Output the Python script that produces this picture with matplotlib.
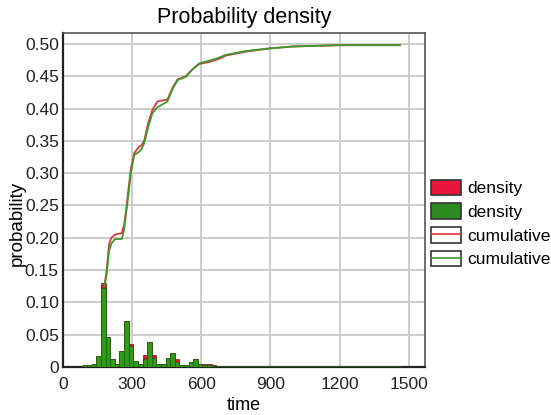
import numpy as np
import matplotlib.pyplot as plt
from matplotlib.patches import Patch
from matplotlib.lines import Line2D
from matplotlib.legend_handler import HandlerTuple

plt.rcParams['font.family'] = ['Liberation Sans', 'DejaVu Sans']

# histogram bins (left edges, width 20)
bin_left = np.arange(85, 1465, 20)

green_density = [0.003, 0.003, 0.004, 0.017, 0.122, 0.047, 0.012, 0.004, 0.024, 0.071,
                 0.032, 0.010, 0.004, 0.013, 0.038, 0.014, 0.004, 0.004, 0.014, 0.021,
                 0.008, 0.003, 0.003, 0.008, 0.012, 0.005, 0.003, 0.003, 0.002, 0.002,
                 0.002, 0.001, 0.002, 0.001, 0.001, 0.002, 0.002, 0.001, 0.001, 0.001,
                 0.002, 0.001, 0.001, 0.001, 0.001, 0.001, 0.002, 0.001, 0.001, 0.001,
                 0.001, 0.001, 0.001, 0.001, 0.001, 0.001, 0.001, 0.001, 0.001, 0.001,
                 0.001, 0.001, 0.001, 0.001, 0.001, 0.001, 0.001, 0.001, 0.001]
red_density = [0.003, 0.003, 0.004, 0.017, 0.130, 0.047, 0.012, 0.004, 0.024, 0.071,
               0.036, 0.010, 0.004, 0.019, 0.038, 0.019, 0.004, 0.004, 0.014, 0.021,
               0.012, 0.003, 0.003, 0.008, 0.012, 0.005, 0.004, 0.004, 0.003, 0.002,
               0.002, 0.001, 0.002, 0.001, 0.001, 0.002, 0.002, 0.001, 0.001, 0.001,
               0.002, 0.001, 0.001, 0.001, 0.001, 0.001, 0.002, 0.001, 0.001, 0.001,
               0.001, 0.001, 0.001, 0.001, 0.001, 0.001, 0.001, 0.001, 0.001, 0.001,
               0.001, 0.001, 0.001, 0.001, 0.001, 0.001, 0.001, 0.001, 0.001]

# cumulative curves
cum_t = [180, 188, 200, 210, 226, 255, 265, 272, 285, 294, 309, 330, 340, 352, 370,
         388, 410, 453, 475, 497, 533, 560, 591, 635, 678, 707, 794, 896, 997, 1100,
         1200, 1461]
cum_green = [0.125, 0.140, 0.180, 0.191, 0.198, 0.198, 0.212, 0.233, 0.270, 0.300,
             0.328, 0.333, 0.337, 0.346, 0.372, 0.393, 0.402, 0.411, 0.430, 0.444,
             0.449, 0.460, 0.470, 0.474, 0.479, 0.483, 0.489, 0.493, 0.496, 0.497,
             0.498, 0.498]
cum_red = [0.128, 0.145, 0.190, 0.200, 0.205, 0.207, 0.220, 0.238, 0.278, 0.306,
           0.331, 0.341, 0.343, 0.350, 0.378, 0.398, 0.411, 0.414, 0.432, 0.445,
           0.450, 0.460, 0.469, 0.472, 0.477, 0.482, 0.488, 0.493, 0.496, 0.497,
           0.498, 0.498]

fig = plt.figure(figsize=(5.51, 4.15), dpi=100)
ax = fig.add_axes([0.1143, 0.1157, 0.657, 0.805])

ax.grid(True, color='#cccccc', linewidth=1.4)
ax.set_axisbelow(True)

ax.bar(bin_left, red_density, width=20, align='edge', color='#e0102e',
       edgecolor='#7a1010', linewidth=0.5, zorder=2)
ax.bar(bin_left, green_density, width=20, align='edge', color='#2f9a14',
       edgecolor='#1d5a0c', linewidth=0.5, zorder=3)
ax.plot(cum_t, cum_red, color='#d83a3a', linewidth=1.3, zorder=4)
ax.plot(cum_t, cum_green, color='#3c9a2c', linewidth=1.3, zorder=5)

ax.set_xlim(0, 1570)
ax.set_ylim(0, 0.517)
ax.set_xticks([0, 300, 600, 900, 1200, 1500])
yt = np.arange(0, 0.501, 0.05)
ax.set_yticks(yt)
ax.set_yticklabels(['0'] + ['%.2f' % v for v in yt[1:]])
ax.tick_params(length=0, labelsize=12.5, colors='#222222', pad=3)
ax.tick_params(axis='x', pad=7)

for side in ['left', 'bottom']:
    ax.spines[side].set_color('#222222')
    ax.spines[side].set_linewidth(1.6)
for side in ['top', 'right']:
    ax.spines[side].set_color('#555555')
    ax.spines[side].set_linewidth(1.2)

ax.set_title('Probability density', fontsize=15.5, pad=7)
ax.set_xlabel('time', fontsize=13, labelpad=4)
ax.set_ylabel('probability', fontsize=13.5)
ax.yaxis.set_label_coords(-0.102, 0.43)

h_red = Patch(facecolor='#e8173a', edgecolor='#333333', linewidth=1.2)
h_green = Patch(facecolor='#2e8b22', edgecolor='#333333', linewidth=1.2)
h_cred = (Patch(facecolor='white', edgecolor='#333333', linewidth=1.2),
          Line2D([], [], color='#d83a3a', linewidth=1.2))
h_cgreen = (Patch(facecolor='white', edgecolor='#333333', linewidth=1.2),
            Line2D([], [], color='#3c9a2c', linewidth=1.2))
fig.legend([h_red, h_green, h_cred, h_cgreen],
           ['density', 'density', 'cumulative', 'cumulative'],
           handler_map={tuple: HandlerTuple(ndivide=1)},
           loc='upper left', bbox_to_anchor=(0.782, 0.567), frameon=False,
           fontsize=12.5, handlelength=1.75, handleheight=1.0, handletextpad=0.35,
           labelspacing=0.4, borderaxespad=0, borderpad=0)

fig.savefig('out.png', dpi=100)
